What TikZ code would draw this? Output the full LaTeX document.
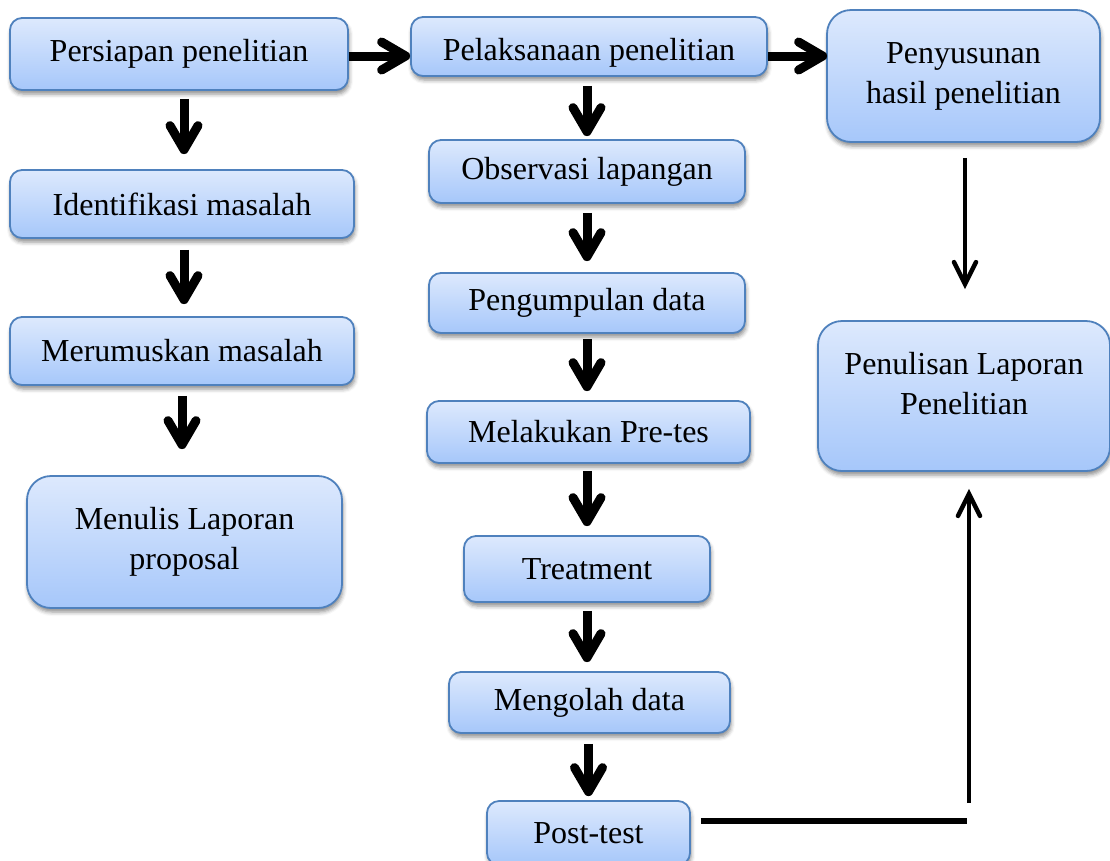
\documentclass[tikz,border=0pt]{standalone}
\usepackage{fontspec}
\setmainfont{Liberation Serif}
\usetikzlibrary{arrows.meta,calc,shadows.blur}
\definecolor{topc}{RGB}{221,233,253}
\definecolor{botc}{RGB}{166,199,250}
\definecolor{bordercol}{RGB}{79,129,189}
\tikzset{
  box/.style={draw=bordercol, line width=1.8pt, top color=topc, bottom color=botc,
    rounded corners=12pt, inner sep=0pt, align=center,
    font=\fontsize{32}{40}\selectfont,
    blur shadow={shadow xshift=1pt, shadow yshift=-4pt, shadow blur radius=4pt, shadow opacity=45}},
  bigbox/.style={box, rounded corners=24pt},
  txt/.style={inner sep=0pt, align=center, font=\fontsize{32}{40}\selectfont},
  bigarrow/.style={line width=9pt, -{Straight Barb[length=24pt,width=28pt,line width=9pt,round]}},
  thinline/.style={line width=4.5pt},
  thinhead/.style={line width=4.5pt, line cap=round, miter limit=10},
  plainline/.style={line width=6pt}
}
\begin{document}
\begin{tikzpicture}[x=1pt,y=1pt]
\useasboundingbox (0,0) rectangle (1110,-860);
\clip (0,0) rectangle (1110,-860);
% left column
\node[box, minimum width=338, minimum height=72] (A) at (179,-54) {Persiapan penelitian};
\node[box, minimum width=344, minimum height=68] (E) at (182,-204) {Identifikasi masalah};
\node[box, minimum width=344, minimum height=68] (F) at (182,-351) {Merumuskan masalah};
\node[bigbox, minimum width=315, minimum height=132] (G) at (184.5,-542) {Menulis Laporan\\proposal};
% middle column
\node[box, minimum width=356, minimum height=59, text height=34pt, text depth=7pt] (B) at (589,-46.5) {Pelaksanaan penelitian};
\node[box, minimum width=316, minimum height=63] (C) at (587,-171.5) {Observasi lapangan};
\node[box, minimum width=316, minimum height=60] (H) at (587,-303) {Pengumpulan data};
\node[box, minimum width=323, minimum height=62] (I) at (588.5,-432) {Melakukan Pre-tes};
\node[box, minimum width=246, minimum height=66] (J) at (587,-569) {Treatment};
\node[box, minimum width=281, minimum height=61] (K) at (589.5,-702.5) {Mengolah data};
\node[box, minimum width=203, minimum height=64] (L) at (588.5,-833) {Post-test};
% right column
\node[bigbox, minimum width=273, minimum height=132] (D) at (963.5,-76) {Penyusunan\\hasil penelitian};
\node[bigbox, minimum width=292, minimum height=150] (M) at (964,-396) {};
\node[txt] (Mt) at ([yshift=12]M.center) {Penulisan Laporan\\Penelitian};
% horizontal arrows
\coordinate (hy) at (0,-56);
\draw[bigarrow] (A.east |- hy) -- (B.west |- hy);
\draw[bigarrow] (B.east |- hy) -- ($(D.west |- hy)+(1,0)$);
% left column arrows
\draw[bigarrow, shorten <=8pt, shorten >=15pt] ($(A.south -| E.north)+(2,0)$) -- ($(E.north)+(2,0)$);
\draw[bigarrow, shorten <=11pt, shorten >=12pt] ($(E.south)+(2,0)$) -- ($(F.north)+(2,0)$);
\draw[bigarrow, shorten <=10pt, shorten >=26pt] (F.south) -- (F.south |- G.north);
% middle column arrows
\draw[bigarrow, shorten <=9pt, shorten >=3pt] (B.south -| C.north) -- (C.north);
\draw[bigarrow, shorten <=9pt, shorten >=11pt] (C.south) -- (H.north);
\draw[bigarrow, shorten <=5pt, shorten >=9pt] (H.south) -- (H.south |- I.north);
\draw[bigarrow, shorten <=7pt, shorten >=9pt] (I.south -| J.north) -- (J.north);
\draw[bigarrow, shorten <=8pt, shorten >=9pt] (J.south) -- (J.south |- K.north);
\draw[bigarrow, shorten <=10pt, shorten >=4pt] (K.south -| L.north) -- (L.north);
% right column arrows
\coordinate (tipDM) at ($(D.south |- M.north)+(1.5,36)$);
\draw[thinline, shorten <=15pt] ($(D.south)+(1.5,0)$) -- ($(tipDM)+(0,-1)$);
\draw[thinhead] ($(tipDM)+(-11,22)$) -- (tipDM) -- ($(tipDM)+(11,22)$);
\coordinate (turn) at (969,-821);
\coordinate (tipLM) at ($(turn |- M.south)+(0,-22)$);
\draw[plainline] ($(L.east |- turn)+(10,0)$) -- ($(turn)+(-2,0)$);
\draw[thinline] ($(turn)+(0,18)$) -- ($(tipLM)+(0,-1)$);
\draw[thinhead] ($(tipLM)+(-11,-22)$) -- (tipLM) -- ($(tipLM)+(11,-22)$);
\end{tikzpicture}
\end{document}
